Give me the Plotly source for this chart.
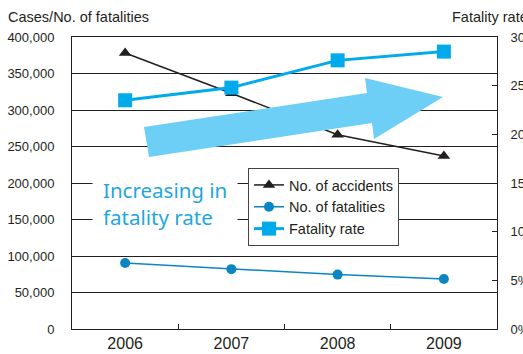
import plotly.graph_objects as go

years = ["2006", "2007", "2008", "2009"]
accidents = [378000, 323000, 266000, 237000]
fatalities = [90500, 82000, 74500, 68500]
fatality_rate = [23.5, 24.8, 27.6, 28.5]

left_ticks = list(range(0, 400001, 50000))
right_ticks = list(range(0, 31, 5))
right_labels = [f"{v}%" for v in right_ticks]

W, H = 523, 354
L, R, T, B = 72, 497, 37, 329

def px(x):
    return (x - L) / (R - L)

def py(y):
    return (B - y) / (B - T)

INK = "#231f20"
FONT = "Liberation Sans, Arial, sans-serif"

fig = go.Figure()
fig.add_trace(go.Scatter(
    x=years, y=accidents, name="No. of accidents", mode="lines+markers",
    line=dict(color=INK, width=1.5),
    marker=dict(symbol="triangle-up", size=11, color=INK)))
fig.add_trace(go.Scatter(
    x=years, y=fatalities, name="No. of fatalities", mode="lines+markers",
    line=dict(color="#0a86c0", width=1.5),
    marker=dict(symbol="circle", size=10, color="#0a86c0")))
fig.add_trace(go.Scatter(
    x=years, y=fatality_rate, name="Fatality rate", mode="lines+markers",
    yaxis="y2",
    line=dict(color="#00aaeb", width=3),
    marker=dict(symbol="square", size=14, color="#00aaeb")))

# big arrow (pixel outline converted to paper coords)
pts = [(144, 127), (367, 93), (365, 78), (443, 97), (374, 139), (372, 123), (149, 157)]
path = "M " + " L ".join(f"{px(x):.4f},{py(y):.4f}" for x, y in pts) + " Z"
fig.add_shape(type="path", path=path, xref="paper", yref="paper",
              fillcolor="#6dcff6", line=dict(width=0), layer="above")

fig.add_annotation(
    text="Increasing in<br>fatality rate", xref="paper", yref="paper",
    x=px(92), y=py(203), xanchor="left", yanchor="middle", align="left",
    showarrow=False, bgcolor="white", borderpad=10,
    font=dict(family="Noto Sans, Liberation Sans, sans-serif", size=20.5, color="#1ea6e2"))

fig.add_annotation(text="Cases/No. of fatalities", xref="paper", yref="paper",
                   x=px(6), y=py(17), xanchor="left", yanchor="middle",
                   showarrow=False, font=dict(family=FONT, size=14.5, color=INK))
fig.add_annotation(text="Fatality rate", xref="paper", yref="paper",
                   x=px(450), y=py(17), xanchor="left", yanchor="middle",
                   showarrow=False, font=dict(family=FONT, size=14.5, color=INK))

fig.update_layout(
    width=W, height=H,
    margin=dict(l=L, r=W - R, t=T, b=H - B, autoexpand=False),
    paper_bgcolor="white", plot_bgcolor="white",
    font=dict(family=FONT, color=INK),
    showlegend=True,
    legend=dict(x=px(248), y=py(168), xanchor="left", yanchor="top",
                bgcolor="white", bordercolor="#444", borderwidth=1,
                font=dict(size=14.5, color=INK), tracegroupgap=0,
                itemwidth=30),
    xaxis=dict(type="category", range=[-0.5, 3.5], showline=True, linecolor=INK,
               linewidth=1, mirror=True, ticks="inside", tickson="boundaries",
               ticklen=5, tickcolor=INK, showgrid=False, automargin=False,
               tickfont=dict(size=16, color=INK)),
    yaxis=dict(range=[0, 400000], tickmode="array", tickvals=left_ticks,
               ticktext=[f"{v:,}" for v in left_ticks],
               showgrid=True, gridcolor=INK, gridwidth=1, showline=True,
               linecolor=INK, zeroline=False, ticks="", ticklabelstandoff=14,
               automargin=False, tickfont=dict(size=13, color=INK)),
    yaxis2=dict(range=[0, 30], tickmode="array", tickvals=right_ticks,
                ticktext=right_labels,
                overlaying="y", side="right", showgrid=False, showline=True,
                linecolor=INK, ticks="inside", ticklen=5, tickcolor=INK,
                zeroline=False, ticklabelstandoff=10, automargin=False,
                tickfont=dict(size=13, color=INK)),
)

fig.write_html("out.html")
